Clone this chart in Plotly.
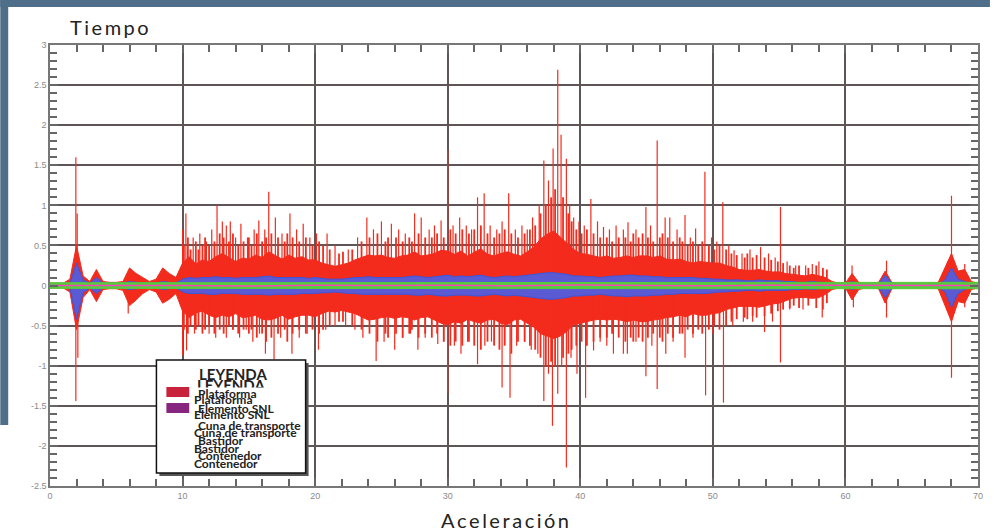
import plotly.graph_objects as go

# ---------------- data ----------------
env_x = [i * 0.5 for i in range(141)]

# dense red core (upper / lower edge), every 0.5 s
red_upper = [
    0.03, 0.03, 0.03, 0.08, 0.5, 0.12, 0.05, 0.2, 0.05, 0.04,
    0.04, 0.05, 0.22, 0.15, 0.1, 0.05, 0.08, 0.22, 0.15, 0.1,
    0.28, 0.36, 0.27, 0.32, 0.3, 0.36, 0.4, 0.35, 0.3, 0.34,
    0.33, 0.38, 0.35, 0.42, 0.37, 0.33, 0.38, 0.34, 0.36, 0.32,
    0.32, 0.28, 0.26, 0.24, 0.26, 0.28, 0.32, 0.35, 0.38, 0.37,
    0.38, 0.35, 0.34, 0.37, 0.38, 0.42, 0.37, 0.38, 0.4, 0.44,
    0.43, 0.39, 0.43, 0.37, 0.42, 0.46, 0.39, 0.37, 0.4, 0.42,
    0.39, 0.37, 0.42, 0.48, 0.58, 0.64, 0.68, 0.6, 0.52, 0.45,
    0.4, 0.39, 0.37, 0.35, 0.37, 0.34, 0.35, 0.37, 0.35, 0.37,
    0.37, 0.35, 0.37, 0.33, 0.32, 0.33, 0.3, 0.28, 0.3, 0.29,
    0.28, 0.28, 0.25, 0.23, 0.2, 0.19, 0.19, 0.2, 0.18, 0.17,
    0.17, 0.15, 0.14, 0.13, 0.12, 0.14, 0.12, 0.1, 0.05, 0.03,
    0.03, 0.15, 0.04, 0.03, 0.03, 0.04, 0.18, 0.04, 0.03, 0.03,
    0.03, 0.03, 0.03, 0.03, 0.04, 0.22, 0.4, 0.18, 0.2, 0.05,
    0.03,
]
red_lower = [
    -0.03, -0.03, -0.03, -0.08, -0.55, -0.15, -0.05, -0.2, -0.05, -0.04,
    -0.04, -0.06, -0.25, -0.18, -0.1, -0.05, -0.08, -0.22, -0.17, -0.1,
    -0.32, -0.4, -0.34, -0.32, -0.37, -0.4, -0.37, -0.39, -0.35, -0.4,
    -0.39, -0.37, -0.42, -0.43, -0.41, -0.37, -0.42, -0.39, -0.37, -0.37,
    -0.39, -0.35, -0.32, -0.33, -0.31, -0.33, -0.35, -0.39, -0.43, -0.42,
    -0.4, -0.39, -0.41, -0.39, -0.4, -0.43, -0.4, -0.39, -0.43, -0.47,
    -0.49, -0.45, -0.47, -0.42, -0.45, -0.47, -0.43, -0.42, -0.47, -0.49,
    -0.43, -0.42, -0.47, -0.52, -0.6, -0.63, -0.66, -0.63, -0.57, -0.49,
    -0.47, -0.45, -0.43, -0.42, -0.43, -0.42, -0.43, -0.45, -0.43, -0.45,
    -0.45, -0.43, -0.42, -0.4, -0.39, -0.37, -0.39, -0.35, -0.37, -0.37,
    -0.35, -0.34, -0.3, -0.28, -0.26, -0.26, -0.26, -0.27, -0.25, -0.23,
    -0.22, -0.19, -0.16, -0.15, -0.15, -0.16, -0.15, -0.11, -0.05, -0.03,
    -0.03, -0.18, -0.05, -0.03, -0.03, -0.04, -0.22, -0.04, -0.03, -0.03,
    -0.03, -0.03, -0.03, -0.03, -0.04, -0.24, -0.45, -0.2, -0.22, -0.05,
    -0.03,
]

# tall individual peaks
spike_up_x = [1.95, 2.05, 10.0, 10.25, 10.8, 11.3, 11.8, 12.2, 12.6, 13.0, 13.3, 13.6,
              14.0, 14.4, 14.9, 15.4, 15.75, 16.2, 16.5, 17.0, 17.5, 18.1, 18.6, 19.1,
              19.6, 20.1, 20.9, 21.5, 22.5, 23.2, 23.9, 24.4, 25.0, 25.75, 26.3, 26.8,
              27.5, 28.0, 28.6, 29.0, 29.5, 30.0, 30.4, 30.9, 31.4, 31.8, 32.25, 32.75,
              33.2, 33.7, 34.1, 34.6, 35.1, 35.6, 36.0, 36.4, 36.9, 37.25, 37.6, 37.95,
              38.3, 38.55, 38.95, 39.2, 39.5, 39.9, 40.3, 40.8, 41.3, 41.75, 42.2, 42.7,
              43.25, 43.6, 44.2, 44.95, 45.3, 45.8, 46.4, 46.75, 47.3, 47.9, 48.3, 48.7,
              49.4, 49.9, 50.3, 50.75, 51.2, 51.6, 52.2, 52.8, 53.6, 54.2, 54.7, 55.1,
              55.6, 56.25, 57.0, 57.5, 58.0, 60.5, 63.1, 67.7, 68.0, 69.0]
spike_up_y = [1.6, 0.9, 0.7, 0.9, 0.6, 0.65, 0.55, 0.7, 1.0, 0.8, 0.75, 0.8,
              0.6, 0.77, 0.6, 0.7, 0.81, 0.7, 1.17, 0.85, 0.65, 0.9, 0.7, 0.77,
              0.6, 0.65, 0.65, 0.5, 0.45, 0.6, 0.85, 0.7, 0.8, 0.77, 0.7, 0.65,
              0.9, 0.85, 0.7, 0.75, 0.81, 1.69, 0.75, 0.85, 0.75, 0.7, 1.1, 1.15,
              0.75, 0.7, 0.8, 1.15, 0.7, 0.75, 0.7, 0.85, 1.0, 1.56, 1.31, 1.71,
              2.69, 1.88, 1.58, 1.0, 0.85, 0.8, 0.75, 1.08, 0.8, 0.73, 0.7, 0.75,
              0.7, 0.79, 0.7, 0.98, 0.75, 1.81, 0.85, 0.85, 0.7, 0.88, 0.6, 0.71,
              1.42, 0.6, 0.55, 1.04, 0.5, 0.44, 0.4, 0.45, 0.48, 0.4, 0.35, 0.98,
              0.3, 0.25, 0.25, 0.27, 0.3, 0.25, 0.31, 0.3, 1.12, 0.27]

spike_dn_x = [1.95, 2.1, 5.9, 10.0, 10.3, 10.9, 11.5, 12.0, 12.5, 13.3, 13.8, 14.3,
              14.8, 15.3, 15.8, 16.25, 16.9, 17.4, 18.25, 18.8, 19.4, 20.25, 20.8, 21.5,
              22.3, 23.0, 23.6, 24.6, 25.2, 26.0, 26.6, 27.2, 27.75, 28.3, 29.25, 29.7,
              30.0, 30.5, 31.0, 31.5, 32.25, 32.8, 33.3, 34.1, 34.7, 35.2, 35.8, 36.3,
              36.8, 37.25, 37.6, 37.9, 38.3, 38.6, 38.95, 39.3, 39.75, 40.4, 41.0, 41.5,
              42.0, 42.5, 43.25, 43.55, 44.2, 44.95, 45.4, 45.8, 46.45, 47.0, 47.9, 48.5,
              49.45, 50.0, 50.8, 51.5, 52.3, 53.0, 53.9, 54.5, 55.1, 55.8, 56.8, 58.25,
              60.6, 63.1, 68.0, 69.0]
spike_dn_y = [-1.44, -0.9, -0.35, -0.87, -0.81, -0.6, -0.55, -0.6, -0.65, -0.65, -0.55, -0.65,
              -0.55, -0.7, -0.6, -0.85, -0.92, -0.65, -0.85, -0.65, -0.6, -0.8, -0.55, -0.5,
              -0.5, -0.55, -0.65, -0.94, -0.7, -0.8, -0.65, -0.6, -0.8, -0.65, -0.73, -0.7,
              -1.35, -0.75, -0.85, -0.7, -0.98, -0.75, -0.7, -1.27, -1.4, -0.75, -0.7, -0.8,
              -0.85, -1.44, -1.1, -1.75, -1.35, -1.0, -2.27, -0.9, -1.1, -1.4, -0.81, -0.7,
              -0.75, -0.85, -0.85, -0.85, -0.7, -1.13, -0.75, -1.29, -0.85, -0.7, -0.9, -0.65,
              -1.37, -0.6, -1.46, -0.5, -0.45, -0.45, -0.58, -0.45, -0.96, -0.3, -0.3, -0.4,
              -0.27, -0.4, -1.15, -0.27]

# medium peaks forming the hatched outer zone
mid_x = [10.1, 10.4, 10.6, 11.0, 11.2, 11.5, 11.7, 12.0, 12.4, 12.8, 13.1, 13.5, 13.8, 14.2, 14.6,
         15.0, 15.2, 15.6, 16.0, 16.3, 16.7, 17.2, 17.7, 17.9, 18.3, 18.8, 19.3, 19.8, 20.3, 20.6,
         21.1, 21.8, 22.1, 22.8, 23.5, 24.1, 24.7, 25.3, 25.5, 26.1, 26.6, 27.1, 27.3, 27.8, 28.3,
         28.8, 29.2, 29.7, 30.2, 30.6, 31.1, 31.6, 32.0, 32.5, 33.0, 33.5, 33.9, 34.3, 34.8, 35.3,
         35.8, 36.2, 36.6, 37.0, 37.4, 37.8, 38.1, 38.7, 39.1, 39.35, 39.7, 40.1, 40.5, 41.0, 41.5,
         42.0, 42.4, 42.9, 43.4, 43.8, 44.0, 44.4, 44.7, 45.1, 45.5, 46.0, 46.2, 46.6, 47.0, 47.5,
         47.7, 48.1, 48.5, 48.9, 49.2, 49.7, 50.1, 50.5, 51.0, 51.4, 51.8, 52.4, 52.6, 53.0, 53.3,
         53.9, 54.4, 54.9, 55.3, 55.8, 56.1, 56.5, 57.2, 57.8, 58.3, 58.6]
mid_up_y = [0.5, 0.6, 0.45, 0.55, 0.45, 0.5, 0.6, 0.5, 0.55, 0.65, 0.6, 0.55, 0.65, 0.5, 0.55,
            0.6, 0.5, 0.65, 0.55, 0.6, 0.65, 0.6, 0.55, 0.65, 0.6, 0.55, 0.6, 0.5, 0.55, 0.5,
            0.45, 0.4, 0.42, 0.45, 0.55, 0.6, 0.65, 0.55, 0.6, 0.6, 0.55, 0.6, 0.55, 0.65, 0.6,
            0.6, 0.65, 0.6, 0.7, 0.65, 0.7, 0.65, 0.7, 0.75, 0.65, 0.6, 0.65, 0.7, 0.65, 0.6,
            0.65, 0.7, 0.75, 0.9, 1.0, 1.1, 1.2, 1.1, 0.9, 0.8, 0.7, 0.65, 0.7, 0.65, 0.6,
            0.6, 0.55, 0.6, 0.6, 0.55, 0.65, 0.6, 0.65, 0.6, 0.55, 0.6, 0.65, 0.6, 0.55, 0.6,
            0.55, 0.5, 0.55, 0.5, 0.55, 0.5, 0.45, 0.5, 0.45, 0.4, 0.38, 0.35, 0.4, 0.35, 0.38,
            0.35, 0.32, 0.3, 0.28, 0.25, 0.22, 0.25, 0.22, 0.25, 0.22, 0.2]
mid_dn_y = [-0.55, -0.6, -0.5, -0.55, -0.5, -0.6, -0.55, -0.5, -0.6, -0.55, -0.6, -0.5, -0.55, -0.6, -0.55,
            -0.6, -0.55, -0.65, -0.6, -0.7, -0.65, -0.6, -0.55, -0.7, -0.6, -0.55, -0.6, -0.55, -0.6, -0.55,
            -0.5, -0.45, -0.45, -0.5, -0.55, -0.6, -0.7, -0.6, -0.65, -0.6, -0.65, -0.6, -0.55, -0.65, -0.6,
            -0.65, -0.6, -0.7, -0.75, -0.7, -0.75, -0.7, -0.75, -0.8, -0.7, -0.75, -0.8, -0.75, -0.85, -0.7,
            -0.7, -0.75, -0.8, -0.9, -1.0, -0.95, -1.0, -0.9, -0.85, -0.8, -0.75, -0.7, -0.75, -0.7, -0.65,
            -0.65, -0.6, -0.65, -0.7, -0.65, -0.7, -0.65, -0.7, -0.65, -0.6, -0.65, -0.7, -0.6, -0.65, -0.6,
            -0.6, -0.55, -0.6, -0.55, -0.6, -0.55, -0.5, -0.55, -0.5, -0.45, -0.42, -0.4, -0.42, -0.38, -0.4,
            -0.38, -0.35, -0.32, -0.3, -0.28, -0.25, -0.28, -0.25, -0.28, -0.3, -0.22]

blue_upper = [
    0.02, 0.02, 0.02, 0.03, 0.28, 0.07, 0.03, 0.1, 0.03, 0.03,
    0.03, 0.03, 0.05, 0.04, 0.03, 0.03, 0.03, 0.05, 0.04, 0.03,
    0.08, 0.1, 0.09, 0.1, 0.1, 0.11, 0.1, 0.1, 0.09, 0.1,
    0.1, 0.1, 0.11, 0.12, 0.1, 0.1, 0.1, 0.1, 0.1, 0.09,
    0.1, 0.09, 0.08, 0.08, 0.08, 0.09, 0.1, 0.1, 0.11, 0.1,
    0.1, 0.1, 0.1, 0.1, 0.11, 0.12, 0.11, 0.1, 0.11, 0.12,
    0.13, 0.11, 0.12, 0.11, 0.12, 0.13, 0.11, 0.1, 0.11, 0.12,
    0.11, 0.12, 0.13, 0.14, 0.15, 0.16, 0.16, 0.15, 0.14, 0.12,
    0.12, 0.11, 0.11, 0.1, 0.11, 0.12, 0.12, 0.13, 0.13, 0.12,
    0.12, 0.11, 0.11, 0.1, 0.1, 0.1, 0.1, 0.1, 0.09, 0.09,
    0.08, 0.08, 0.07, 0.07, 0.07, 0.06, 0.06, 0.07, 0.06, 0.06,
    0.06, 0.05, 0.05, 0.04, 0.04, 0.05, 0.04, 0.04, 0.03, 0.02,
    0.02, 0.05, 0.02, 0.02, 0.02, 0.02, 0.13, 0.03, 0.02, 0.02,
    0.02, 0.02, 0.02, 0.02, 0.02, 0.07, 0.22, 0.08, 0.05, 0.02,
    0.02,
]
blue_lower = [
    -0.02, -0.02, -0.02, -0.03, -0.42, -0.09, -0.03, -0.1, -0.03, -0.03,
    -0.03, -0.03, -0.05, -0.04, -0.03, -0.03, -0.03, -0.05, -0.04, -0.03,
    -0.08, -0.1, -0.1, -0.1, -0.11, -0.11, -0.1, -0.1, -0.1, -0.11,
    -0.11, -0.11, -0.11, -0.12, -0.11, -0.11, -0.11, -0.11, -0.1, -0.1,
    -0.1, -0.09, -0.09, -0.08, -0.09, -0.1, -0.1, -0.11, -0.11, -0.11,
    -0.11, -0.11, -0.11, -0.11, -0.11, -0.12, -0.12, -0.11, -0.12, -0.13,
    -0.13, -0.12, -0.12, -0.12, -0.13, -0.13, -0.12, -0.11, -0.12, -0.13,
    -0.12, -0.13, -0.14, -0.15, -0.16, -0.17, -0.17, -0.16, -0.15, -0.13,
    -0.13, -0.12, -0.12, -0.11, -0.12, -0.13, -0.13, -0.14, -0.13, -0.13,
    -0.13, -0.12, -0.12, -0.11, -0.11, -0.1, -0.1, -0.1, -0.1, -0.1,
    -0.09, -0.08, -0.08, -0.07, -0.07, -0.06, -0.06, -0.07, -0.06, -0.06,
    -0.06, -0.06, -0.05, -0.05, -0.04, -0.05, -0.04, -0.04, -0.03, -0.02,
    -0.02, -0.05, -0.02, -0.02, -0.02, -0.02, -0.15, -0.03, -0.02, -0.02,
    -0.02, -0.02, -0.02, -0.02, -0.02, -0.08, -0.27, -0.1, -0.05, -0.02,
    -0.02,
]

green_x = [0, 5, 10, 15, 20, 25, 30, 35, 40, 45, 50, 55, 60, 65, 70]
green_upper = [0.035, 0.035, 0.04, 0.035, 0.035, 0.04, 0.035, 0.04, 0.035, 0.04, 0.035, 0.04, 0.04, 0.04, 0.04]
green_lower = [-0.035, -0.035, -0.04, -0.035, -0.04, -0.035, -0.04, -0.035, -0.04, -0.035, -0.035, -0.04, -0.04, -0.04, -0.04]

pink_x = [0, 5, 10, 15, 20, 25, 30, 35, 40, 45, 50, 55, 60, 65, 70]
pink_y = [0.0, 0.003, 0.0, -0.005, 0.004, 0.0, 0.005, -0.004, 0.006, 0.0, -0.003, 0.004, 0.0, 0.002, 0.0]

x_ticks = [0, 10, 20, 30, 40, 50, 60, 70]
x_labels = ["0", "10", "20", "30", "40", "50", "60", "70"]
y_ticks = [3, 2.5, 2, 1.5, 1, 0.5, 0, -0.5, -1, -1.5, -2, -2.5]
y_labels = ["3", "2.5", "2", "1.5", "1", "0.5", "0", "-0.5", "-1", "-1.5", "-2", "-2.5"]

legend_title = "LEYENDA"
legend_items = ["Plataforma", "Elemento SNL", "Cuna de transporte", "Bastidor", "Contenedor"]
legend_colors = ["#c8233a", "#87267f"]

# ---------------- styling / layout helpers ----------------
W, H = 995, 532
L, R, T, B = 50, 983, 45, 486
RED = "#f32b1d"


def px(xp):
    return (xp - L) / (R - L)


def py(yp):
    return (B - yp) / (B - T)


def segs(xs, ys):
    sx, sy = [], []
    for a, b in zip(xs, ys):
        sx += [a, a, None]
        sy += [0, b, None]
    return sx, sy


fig = go.Figure()

fig.add_trace(go.Scatter(x=env_x + env_x[::-1], y=red_upper + red_lower[::-1],
                         fill="toself", fillcolor=RED, mode="lines",
                         line=dict(color=RED, width=1), hoverinfo="skip"))
for xs, ys, w in [(mid_x, mid_up_y, 1.8), (mid_x, mid_dn_y, 1.8),
                  (spike_up_x, spike_up_y, 1.2), (spike_dn_x, spike_dn_y, 1.2)]:
    sx, sy = segs(xs, ys)
    fig.add_trace(go.Scatter(x=sx, y=sy, mode="lines", line=dict(color=RED, width=w), hoverinfo="skip"))

fig.add_trace(go.Scatter(x=env_x + env_x[::-1], y=blue_upper + blue_lower[::-1],
                         fill="toself", fillcolor="#5a5ad4", mode="lines",
                         line=dict(color="#3f55d6", width=1), hoverinfo="skip"))
fig.add_trace(go.Scatter(x=green_x + green_x[::-1], y=green_upper + green_lower[::-1],
                         fill="toself", fillcolor="#55cc3c", mode="lines",
                         line=dict(color="#55cc3c", width=1), hoverinfo="skip"))
fig.add_trace(go.Scatter(x=pink_x, y=pink_y, mode="lines",
                         line=dict(color="#ff3fc0", width=1.5), hoverinfo="skip"))

GRID = "#5e5656"
tickfont = dict(family="Liberation Sans, Arial, sans-serif", size=9, color="#8a8a8a")

fig.update_xaxes(range=[0, 70], tickvals=x_ticks, ticktext=x_labels,
                 showgrid=True, gridcolor=GRID, gridwidth=1.5,
                 zeroline=False, showline=True, linecolor="#777", linewidth=1.5,
                 mirror="ticks", ticks="inside", ticklen=8, tickcolor="#666", tickwidth=1.5,
                 minor=dict(dtick=2, ticks="inside", ticklen=7, tickcolor="#666", tickwidth=1.5,
                            showgrid=False),
                 tickfont=tickfont)
fig.update_yaxes(range=[-2.5, 3], tickvals=y_ticks, ticktext=y_labels,
                 showgrid=True, gridcolor=GRID, gridwidth=1.5,
                 zeroline=False, showline=True, linecolor="#777", linewidth=1.5,
                 mirror="ticks", ticks="inside", ticklen=8, tickcolor="#666", tickwidth=1.5,
                 minor=dict(dtick=0.1, ticks="inside", ticklen=7, tickcolor="#666", tickwidth=1.5,
                            showgrid=False),
                 tickfont=tickfont)

shapes = []
SLATE = "#4f6e89"
shapes.append(dict(type="rect", xref="paper", yref="paper", x0=px(0), x1=px(W), y0=py(7), y1=py(0),
                   fillcolor=SLATE, line=dict(width=0), layer="above"))
shapes.append(dict(type="rect", xref="paper", yref="paper", x0=px(0), x1=px(8), y0=py(425), y1=py(0),
                   fillcolor=SLATE, line=dict(width=0), layer="above"))
shapes.append(dict(type="rect", xref="paper", yref="paper", x0=px(160), x1=px(310), y0=py(476), y1=py(363),
                   fillcolor="#555", line=dict(width=0), layer="above"))
shapes.append(dict(type="rect", xref="paper", yref="paper", x0=px(157), x1=px(307), y0=py(473), y1=py(360),
                   fillcolor="white", line=dict(color="#111", width=1.5), layer="above"))
sw_y = [(387, 397), (403, 413)]
for (y0, y1), c in zip(sw_y, legend_colors):
    shapes.append(dict(type="rect", xref="paper", yref="paper", x0=px(167), x1=px(190), y0=py(y1), y1=py(y0),
                       fillcolor=c, line=dict(width=0), layer="above"))

annotations = []
lato_title = dict(family="Lato, sans-serif", size=20, color="#222")
annotations.append(dict(text="\u2009".join("Tiempo"), x=px(68), y=py(27), xref="paper", yref="paper",
                        xanchor="left", yanchor="middle", showarrow=False, font=lato_title))
annotations.append(dict(text="\u2009".join("Aceleración"), x=px(507), y=py(520), xref="paper", yref="paper",
                        xanchor="center", yanchor="middle", showarrow=False, font=lato_title))

leg_font = dict(family="Lato, sans-serif", size=15, color="#222", weight="bold")
annotations.append(dict(text=legend_title, x=px(234), y=py(374), xref="paper", yref="paper",
                        xanchor="center", yanchor="middle", showarrow=False, font=leg_font))
annotations.append(dict(text=legend_title, x=px(232), y=py(385), xref="paper", yref="paper",
                        xanchor="center", yanchor="middle", showarrow=False, font=leg_font))
annotations.append(dict(text=" ", x=px(193), y=py(387), xref="paper", yref="paper",
                        xanchor="left", yanchor="top", showarrow=False, width=100, height=10,
                        bgcolor="white", font=dict(size=4)))

item_font = dict(family="Lato, sans-serif", size=12, color="#222", weight="bold")
first_y = [393, 408, 425, 440, 455]
second_y = [400, 414, 432, 448, 463]
for name, y1, y2 in zip(legend_items, first_y, second_y):
    annotations.append(dict(text=name, x=px(197), y=py(y1), xref="paper", yref="paper",
                            xanchor="left", yanchor="middle", showarrow=False, font=item_font))
    annotations.append(dict(text=name, x=px(193), y=py(y2), xref="paper", yref="paper",
                            xanchor="left", yanchor="middle", showarrow=False, font=item_font))

fig.update_layout(width=W, height=H, margin=dict(l=L, r=W - R, t=T, b=H - B),
                  paper_bgcolor="white", plot_bgcolor="white", showlegend=False,
                  shapes=shapes, annotations=annotations)

fig.write_html("out.html", config={"displayModeBar": False},
               post_script="document.body.style.margin='0';")
